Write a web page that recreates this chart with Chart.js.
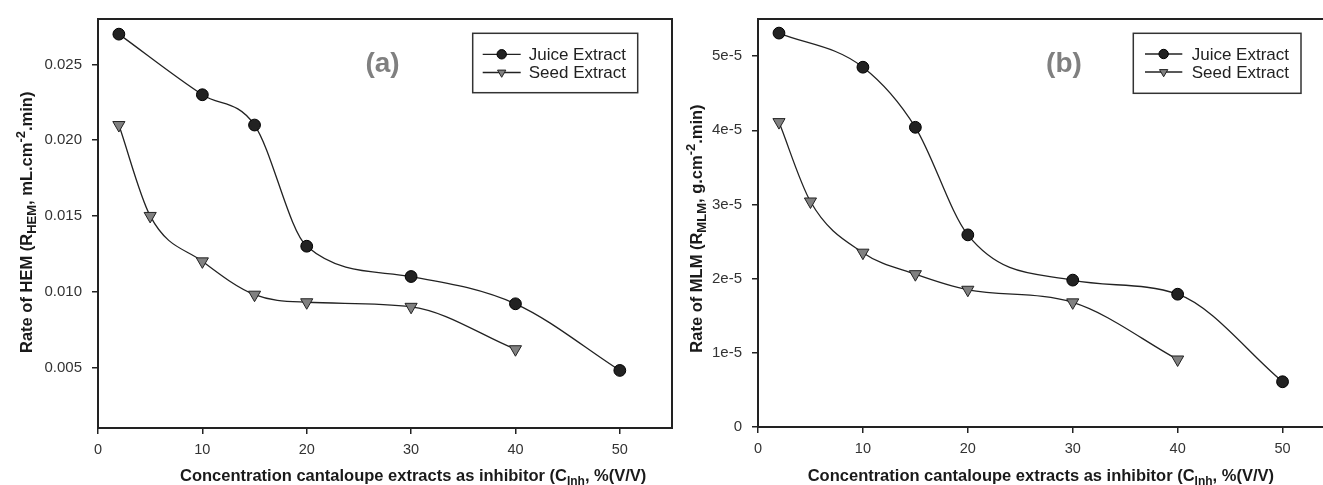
<!DOCTYPE html>
<html><head><meta charset="utf-8">
<script src="https://cdn.jsdelivr.net/npm/chart.js@4/dist/chart.umd.min.js"></script>
<style>
html,body{margin:0;padding:0;background:#fff;overflow:hidden;width:1323px;height:485px;}
.wrap{position:absolute;top:0;height:485px;width:700px;}
#w1{left:0;} #w2{left:660px;}
</style></head><body>
<div class="wrap" id="w1"><canvas id="c1" width="700" height="485"></canvas></div>
<div class="wrap" id="w2"><canvas id="c2" width="700" height="485"></canvas></div>
<script>
// ---- data ----
const concJuice = [2, 10, 15, 20, 30, 40, 50];
const concSeed  = [2, 5, 10, 15, 20, 30, 40];
const hemJuice = [0.0270, 0.0230, 0.0210, 0.0130, 0.0110, 0.0092, 0.0048];
const hemSeed  = [0.0210, 0.0150, 0.0120, 0.0098, 0.0093, 0.0090, 0.0062];
const mlmJuice = [5.31e-5, 4.85e-5, 4.04e-5, 2.59e-5, 1.98e-5, 1.79e-5, 0.61e-5];
const mlmSeed  = [4.11e-5, 3.04e-5, 2.35e-5, 2.06e-5, 1.85e-5, 1.68e-5, 0.91e-5];
const seriesNames = ['Juice Extract', 'Seed Extract'];
const xTicks = [0, 10, 20, 30, 40, 50];
const xTickLabels = ['0', '10', '20', '30', '40', '50'];
const hemTicks = [0.005, 0.010, 0.015, 0.020, 0.025];
const hemTickLabels = ['0.005', '0.010', '0.015', '0.020', '0.025'];
const mlmTicks = [0, 1e-5, 2e-5, 3e-5, 4e-5, 5e-5];
const mlmTickLabels = ['0', '1e-5', '2e-5', '3e-5', '4e-5', '5e-5'];

const FAM = '"Liberation Sans", Arial, sans-serif';

const juiceStyle = {borderColor:'#222', borderWidth:1.3, pointStyle:'circle', pointRadius:5.9,
  pointBackgroundColor:'#222', pointBorderColor:'#000', pointBorderWidth:1,
  cubicInterpolationMode:'monotone', fill:false, legendRadius:4.7};
const seedStyle = {borderColor:'#222', borderWidth:1.3, pointStyle:'triangle', pointRotation:180, pointRadius:7,
  pointBackgroundColor:'#808080', pointBorderColor:'#222', pointBorderWidth:1,
  cubicInterpolationMode:'monotone', fill:false, legendRadius:4.8};

function ds(label, xs, ys, style) {
  return Object.assign({label, data: xs.map((x, i) => ({x, y: ys[i]}))}, style);
}

function drawParts(ctx, parts) {
  let x = 0;
  for (const p of parts) {
    ctx.font = 'bold ' + p.size + 'px ' + FAM;
    ctx.fillText(p.t, x, p.dy || 0);
    x += ctx.measureText(p.t).width;
  }
}

const decor = {
  id: 'decor',
  afterDraw(chart, args, o) {
    const ctx = chart.ctx, a = chart.chartArea, ox = o.offsetX;
    ctx.save();
    // frame
    ctx.strokeStyle = '#222'; ctx.lineWidth = 2;
    ctx.strokeRect(a.left, a.top, a.right - a.left, a.bottom - a.top);
    // tag
    ctx.fillStyle = '#808080';
    ctx.font = 'bold 28px ' + FAM;
    ctx.textAlign = 'center'; ctx.textBaseline = 'middle';
    ctx.fillText(o.tag.text, o.tag.x - ox, o.tag.y);
    // legend
    const L = o.legend;
    ctx.strokeStyle = '#333'; ctx.lineWidth = 1.5;
    ctx.strokeRect(L.x1 - ox, L.y1, L.x2 - L.x1, L.y2 - L.y1);
    chart.data.datasets.forEach((d, i) => {
      const y = L.rows[i];
      ctx.strokeStyle = d.borderColor; ctx.lineWidth = d.borderWidth;
      ctx.beginPath(); ctx.moveTo(L.lx1 - ox, y); ctx.lineTo(L.lx2 - ox, y); ctx.stroke();
      ctx.fillStyle = d.pointBackgroundColor; ctx.strokeStyle = d.pointBorderColor; ctx.lineWidth = d.pointBorderWidth;
      Chart.helpers.drawPoint(ctx, {pointStyle: d.pointStyle, rotation: d.pointRotation || 0,
        radius: d.legendRadius, borderWidth: d.pointBorderWidth}, (L.lx1 + L.lx2) / 2 - ox, y);
      ctx.fillStyle = '#222';
      ctx.font = '17px ' + FAM;
      ctx.textAlign = 'left'; ctx.textBaseline = 'middle';
      ctx.fillText(d.label, L.tx - ox, y + 1);
    });
    // titles
    ctx.fillStyle = '#1a1a1a';
    ctx.textAlign = 'left'; ctx.textBaseline = 'alphabetic';
    ctx.save(); ctx.translate(o.xTitle.x - ox, o.xTitle.y); drawParts(ctx, o.xTitle.parts); ctx.restore();
    ctx.save(); ctx.translate(o.yTitle.x - ox, o.yTitle.y); ctx.rotate(-Math.PI / 2); drawParts(ctx, o.yTitle.parts); ctx.restore();
    ctx.restore();
  }
};

function makeChart(id, datasets, y, pad, xH, dec) {
  const gridCfg = {display:true, drawOnChartArea:false, drawTicks:true, tickLength:6, color:'#222', lineWidth:1.5};
  return new Chart(document.getElementById(id), {
    type: 'line',
    data: {datasets},
    plugins: [decor],
    options: {
      responsive: false, animation: false, devicePixelRatio: 1,
      layout: {padding: pad},
      plugins: {legend: {display:false}, tooltip: {enabled:false}, decor: dec},
      scales: {
        x: {type:'linear', min:0, max:55, bounds:'data',
          afterFit: s => { s.height = xH; },
          afterBuildTicks: s => { s.ticks = xTicks.map(v => ({value: v})); },
          ticks: {padding:7, color:'#333', font:{family:FAM, size:14.5}, maxRotation:0,
            callback: (v, i) => xTickLabels[i]},
          grid: gridCfg, border: {display:true, color:'#222', width:2}},
        y: {type:'linear', min:y.min, max:y.max, bounds:'data',
          afterFit: s => { s.width = 98; },
          afterBuildTicks: s => { s.ticks = y.ticks.map(v => ({value: v})); },
          ticks: {padding:10, color:'#333', font:{family:FAM, size:15},
            callback: (v, i) => y.labels[i]},
          grid: gridCfg, border: {display:true, color:'#222', width:2}}
      }
    }
  });
}

makeChart('c1',
  [ds(seriesNames[0], concJuice, hemJuice, juiceStyle), ds(seriesNames[1], concSeed, hemSeed, seedStyle)],
  {min:0.001, max:0.028, ticks:hemTicks, labels:hemTickLabels},
  {left:0, top:16, right:28, bottom:0}, 57,
  {offsetX:0,
   tag:{text:'(a)', x:382.5, y:64},
   legend:{x1:472.7, y1:33.3, x2:637.7, y2:92.7, lx1:482.7, lx2:520.7, tx:528.7, rows:[54.3, 72.5]},
   xTitle:{x:180, y:481, parts:[{t:'Concentration cantaloupe extracts as inhibitor (C', size:16.5},{t:'Inh', size:12, dy:4},{t:', %(V/V)', size:16.5}]},
   yTitle:{x:31.5, y:353, parts:[{t:'Rate of HEM (R', size:16.5},{t:'HEM', size:13, dy:4},{t:', mL.cm', size:16.5},{t:'-2', size:13, dy:-7},{t:'.min)', size:16.5}]}
  });

makeChart('c2',
  [ds(seriesNames[0], concJuice, mlmJuice, juiceStyle), ds(seriesNames[1], concSeed, mlmSeed, seedStyle)],
  {min:0, max:5.5e-5, ticks:mlmTicks, labels:mlmTickLabels},
  {left:0, top:13, right:25, bottom:0}, 58,
  {offsetX:660,
   tag:{text:'(b)', x:1064, y:64.5},
   legend:{x1:1133.3, y1:33.3, x2:1301, y2:93.3, lx1:1145, lx2:1182.3, tx:1191.7, rows:[54, 72]},
   xTitle:{x:807.7, y:481, parts:[{t:'Concentration cantaloupe extracts as inhibitor (C', size:16.5},{t:'Inh', size:12, dy:4},{t:', %(V/V)', size:16.5}]},
   yTitle:{x:701.5, y:352.7, parts:[{t:'Rate of MLM (R', size:16.5},{t:'MLM', size:13, dy:4},{t:', g.cm', size:16.5},{t:'-2', size:13, dy:-7},{t:'.min)', size:16.5}]}
  });
</script>
</body></html>
